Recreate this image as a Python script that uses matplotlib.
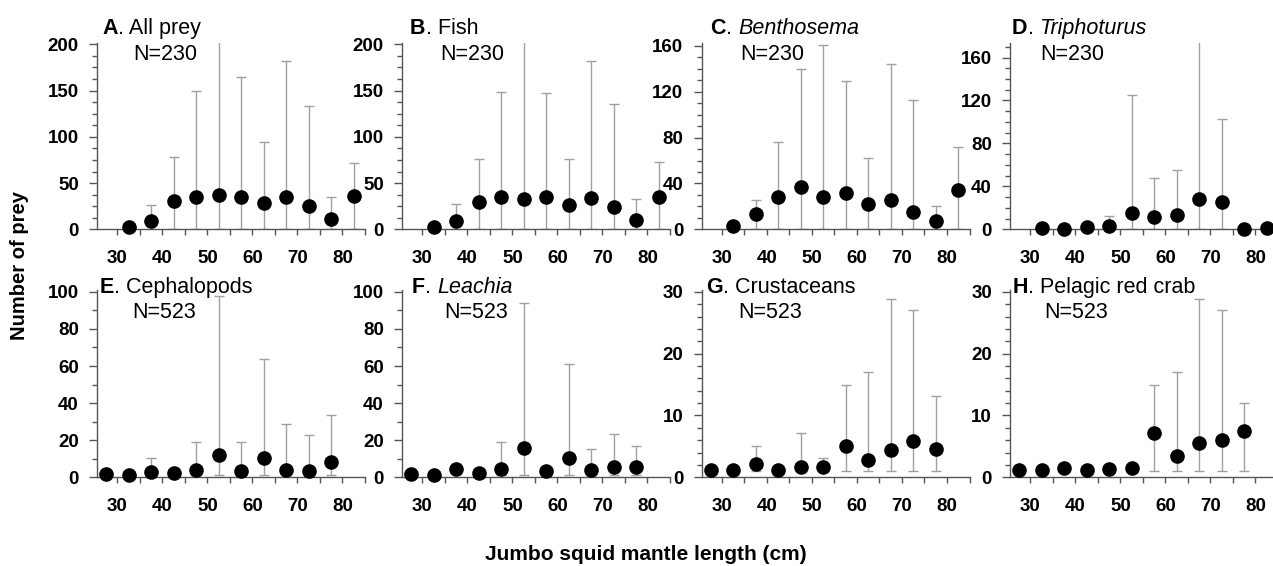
import numpy as np
import matplotlib
matplotlib.use("Agg")
import matplotlib.pyplot as plt
import matplotlib.transforms as mtransforms
from matplotlib.ticker import MultipleLocator

plt.rcParams["font.family"] = ["Liberation Sans", "DejaVu Sans"]
plt.rcParams["font.weight"] = "bold"

# mantle length class mid-points (cm)
length_top = [32.5, 37.5, 42.5, 47.5, 52.5, 57.5, 62.5, 67.5, 72.5, 77.5, 82.5]
length_bottom = [27.5, 32.5, 37.5, 42.5, 47.5, 52.5, 57.5, 62.5, 67.5, 72.5, 77.5]

# mean number of prey per stomach and the max of the range (top of the bar)
all_prey_mean = [2, 9, 31, 35, 37, 35, 28, 35, 25, 11, 36]
all_prey_max = [2, 26, 78, 150, 230, 165, 94, 182, 133, 35, 72]
fish_mean = [2.5, 9, 30, 35, 33, 35, 26, 34, 24, 10, 35]
fish_max = [2.5, 27, 76, 148, 230, 147, 76, 182, 135, 33, 73]
benthosema_mean = [3, 13, 28.5, 37, 28, 32, 22.5, 25.5, 15, 7.5, 34.5]
benthosema_max = [3, 25.5, 76, 140, 161, 129, 62, 144.5, 113, 20.5, 72]
triphoturus_mean = [1.2, 0.6, 2, 3.4, 15, 11.5, 13.4, 28.6, 25, 0.6, 1.2]
triphoturus_max = [1.2, 0.6, 2, 12, 125, 47.5, 55, 220, 103, 0.6, 1.2]

cephalopods_mean = [1.8, 1.3, 3, 2.2, 4, 12, 3.6, 10.2, 4, 3.6, 8.4]
cephalopods_max = [1.8, 1.3, 10.2, 2.2, 19, 98, 19, 64, 29, 23, 33.6]
leachia_mean = [1.8, 1.3, 4.3, 2.2, 4.3, 16, 3.6, 10.6, 4, 5.7, 5.7]
leachia_max = [1.8, 1.3, 4.3, 2.2, 19, 94, 3.6, 61, 15.3, 23.3, 17]
crustaceans_mean = [1.2, 1.2, 2.2, 1.2, 1.7, 1.7, 5, 2.8, 4.4, 5.9, 4.5]
crustaceans_max = [1.2, 1.2, 5.1, 1.2, 7.1, 3.2, 15, 17, 28.9, 27.1, 13.2]
red_crab_mean = [1.2, 1.2, 1.5, 1.2, 1.4, 1.5, 7.1, 3.4, 5.6, 6, 7.5]
red_crab_max = [1.2, 1.2, 1.5, 1.2, 1.4, 1.5, 15, 17, 28.9, 27.1, 12.1]

# minimum of the range: 0 for fish panels, 1 for cephalopod/crustacean panels
range_min_top = 0
range_min_bottom = 1

panel_letters = ["A", "B", "C", "D", "E", "F", "G", "H"]
panel_names = ["All prey", "Fish", "Benthosema", "Triphoturus",
               "Cephalopods", "Leachia", "Crustaceans", "Pelagic red crab"]
panel_italic = [False, False, True, True, False, True, False, False]
panel_n = [230, 230, 230, 230, 523, 523, 523, 523]
panel_means = [all_prey_mean, fish_mean, benthosema_mean, triphoturus_mean,
               cephalopods_mean, leachia_mean, crustaceans_mean, red_crab_mean]
panel_maxes = [all_prey_max, fish_max, benthosema_max, triphoturus_max,
               cephalopods_max, leachia_max, crustaceans_max, red_crab_max]
panel_ymax = [202, 202, 163, 174, 101, 101, 30.3, 30.3]
panel_major = [50, 50, 40, 40, 20, 20, 10, 10]
panel_minor = [12.5, 12.5, 10, 10, 10, 10, 2, 2]

# layout in pixels of the 1273x566 output
W, H = 1273, 566
col_left = [97, 402, 701.5, 1010]
ax_width = 268
row_top = [42.5, 290]
row_bottom = [229.3, 477.3]
title_dx = [5, 8, 9, 2, 3, 10, 5, 3]
n_dx = [36, 38, 39, 30, 35, 42, 37, 34]
title_base = [-8.5, 2.7]
n_base = [17.5, 28.5]

axis_grey = "#555555"
bar_grey = "#a0a0a0"

fig = plt.figure(figsize=(W / 100, H / 100), dpi=100)

for i in range(8):
    row, col = divmod(i, 4)
    left = col_left[col]
    top, bottom = row_top[row], row_bottom[row]
    ax = fig.add_axes([left / W, 1 - bottom / H, ax_width / W, (bottom - top) / H])

    x = np.array(length_top if row == 0 else length_bottom)
    mean = np.array(panel_means[i], dtype=float)
    hi = np.array(panel_maxes[i], dtype=float)
    lo_val = range_min_top if row == 0 else range_min_bottom
    lo = np.where(hi > mean, np.minimum(lo_val, mean), mean)

    ax.errorbar(x, mean, yerr=[mean - lo, hi - mean], fmt="none", ecolor=bar_grey,
                elinewidth=1, capsize=3.5, capthick=1, zorder=2)
    ax.plot(x, mean, "o", color="black", ms=9.5, clip_on=False, zorder=3)

    ax.set_xlim(25.5, 85)
    ax.set_ylim(0, panel_ymax[i])
    ax.xaxis.set_major_locator(MultipleLocator(10))
    ax.xaxis.set_minor_locator(MultipleLocator(5))
    ax.yaxis.set_major_locator(MultipleLocator(panel_major[i]))
    ax.yaxis.set_minor_locator(MultipleLocator(panel_minor[i]))

    for side in ["top", "right"]:
        ax.spines[side].set_visible(False)
    for side in ["left", "bottom"]:
        ax.spines[side].set_color(axis_grey)
        ax.spines[side].set_linewidth(1)

    ax.tick_params(axis="x", which="both", length=4, width=1, color=axis_grey,
                   pad=11, labelsize=13.5)
    ax.tick_params(axis="y", which="major", length=6, width=1, color=axis_grey,
                   pad=7, labelsize=13.5)
    ax.tick_params(axis="y", which="minor", length=3.5, width=1, color=axis_grey)

    # panel title: bold letter, then name (italic for genera), then N on the next line
    tr = mtransforms.offset_copy(ax.transAxes, fig=fig, x=title_dx[i],
                                 y=-title_base[row], units="dots")
    t0 = ax.text(0, 1, panel_letters[i], transform=tr, fontsize=15.5,
                 fontweight="bold", va="baseline", ha="left")
    if panel_italic[i]:
        t1 = ax.annotate(". ", xy=(1, 0), xycoords=t0, fontsize=15.5,
                         fontweight="normal", va="bottom", ha="left")
        ax.annotate(panel_names[i], xy=(1, 0), xycoords=t1, fontsize=15.5,
                    fontweight="normal", style="italic", va="bottom", ha="left")
    else:
        ax.annotate(". " + panel_names[i], xy=(1, 0), xycoords=t0, fontsize=15.5,
                    fontweight="normal", va="bottom", ha="left")
    tr_n = mtransforms.offset_copy(ax.transAxes, fig=fig, x=n_dx[i],
                                   y=-n_base[row], units="dots")
    ax.text(0, 1, f"N={panel_n[i]}", transform=tr_n, fontsize=15.5,
            fontweight="normal", va="baseline", ha="left")

fig.text(646 / W, 1 - 555 / H, "Jumbo squid mantle length (cm)", fontsize=15,
         fontweight="bold", ha="center", va="center")
fig.text(20 / W, 1 - 265 / H, "Number of prey", fontsize=14.5, fontweight="bold",
         rotation=90, ha="center", va="center")

fig.savefig("out.png", dpi=100)
